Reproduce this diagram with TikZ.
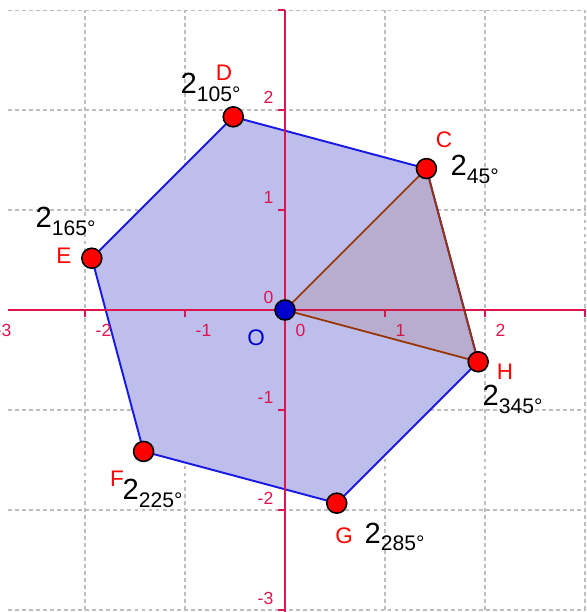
\documentclass[tikz,border=0pt]{standalone}
\usepackage{fontspec}
\setmainfont{Liberation Sans}
\definecolor{axisred}{RGB}{220,20,80}
\definecolor{gridgray}{RGB}{190,190,190}
\definecolor{hexfill}{RGB}{190,190,236}
\definecolor{hexblue}{RGB}{25,25,230}
\definecolor{tribrown}{RGB}{153,51,0}
\definecolor{originblue}{RGB}{0,0,205}
% modulus 2 with the angle as subscript
\newcommand{\polarlab}[1]{2\raisebox{-2pt}{\fontsize{6}{7}\selectfont #1°}}
\begin{document}
\begin{tikzpicture}[
	ptdot/.style={circle, draw=black, line width=0.45pt, fill=red, inner sep=0pt, minimum size=0.2cm},
	ticklab/.style={text=axisred, font=\fontsize{5}{6}\selectfont, inner sep=0pt},
	ptlab/.style={text=red, font=\fontsize{6.4}{7}\selectfont, inner sep=0pt},
	polar/.style={font=\fontsize{8.3}{9}\selectfont, inner sep=0pt, anchor=base west}
	]
	
	\clip (-2.85,-3.02) rectangle (3.01,3.10);
	
	% dashed grid
	\draw[gridgray, line width=0.3pt, dash pattern=on 1.1pt off 0.9pt] (-2.77,-3) grid (3.01,3);
	
	% vertices of the hexagon, modulus 2
	\coordinate (O) at (0,0);
	\coordinate (C) at (45:2);
	\coordinate (D) at (105:2);
	\coordinate (E) at (165:2);
	\coordinate (F) at (225:2);
	\coordinate (G) at (285:2);
	\coordinate (H) at (345:2);
	
	% the hexagon
	\filldraw[fill=hexfill, draw=hexblue, line width=0.55pt] (C) -- (D) -- (E) -- (F) -- (G) -- (H) -- cycle;
	
	% axes
	\draw[axisred, line width=0.45pt] (-2.77,0) -- (3.01,0);
	\draw[axisred, line width=0.45pt] (0,-3.02) -- (0,3);
	\foreach \x in {-3,-2,-1,1,2,3}
		\draw[axisred, line width=0.45pt] (\x,0) -- (\x,-0.07);
	\foreach \y in {-3,-2,-1,1,2,3}
		\draw[axisred, line width=0.45pt] (0,\y) -- (-0.07,\y);
	
	% tick labels
	\foreach \x [count=\i] in {-3,-2,-1,0,1,2}
		\node[ticklab, anchor=base west] (xlab\i) at (\x+0.1,-0.27) {\x};
	\foreach \y [count=\i] in {-3,-2,-1,0,1,2}
		\node[ticklab, anchor=base east] (ylab\i) at (-0.11,\y+0.06) {\y};
	
	% triangle OCH
	\filldraw[fill=tribrown, fill opacity=0.12, draw=tribrown, line width=0.5pt] (O) -- (C) -- (H) -- cycle;
	
	% points
	\node[ptdot] (Cdot) at (C) {};
	\node[ptdot] (Ddot) at (D) {};
	\node[ptdot] (Edot) at (E) {};
	\node[ptdot] (Fdot) at (F) {};
	\node[ptdot] (Gdot) at (G) {};
	\node[ptdot] (Hdot) at (H) {};
	\node[ptdot, fill=originblue] (Odot) at (O) {};
	
	% point names
	\node[ptlab] (Clab) at (1.59,1.70) {C};
	\node[ptlab] (Dlab) at (-0.61,2.37) {D};
	\node[ptlab] (Elab) at (-2.21,0.54) {E};
	\node[ptlab] (Flab) at (-1.68,-1.69) {F};
	\node[ptlab] (Glab) at (0.59,-2.26) {G};
	\node[ptlab] (Hlab) at (2.20,-0.62) {H};
	\node[ptlab, text=originblue] (Olab) at (-0.29,-0.28) {O};
	
	% modulus and argument
	\node[polar] (Cpol) at (1.65,1.34) {\polarlab{45}};
	\node[polar] (Dpol) at (-1.05,2.16) {\polarlab{105}};
	\node[polar] (Epol) at (-2.50,0.82) {\polarlab{165}};
	\node[polar] (Fpol) at (-1.63,-1.90) {\polarlab{225}};
	\node[polar] (Gpol) at (0.79,-2.33) {\polarlab{285}};
	\node[polar] (Hpol) at (1.97,-0.96) {\polarlab{345}};
	
\end{tikzpicture}
\end{document}
